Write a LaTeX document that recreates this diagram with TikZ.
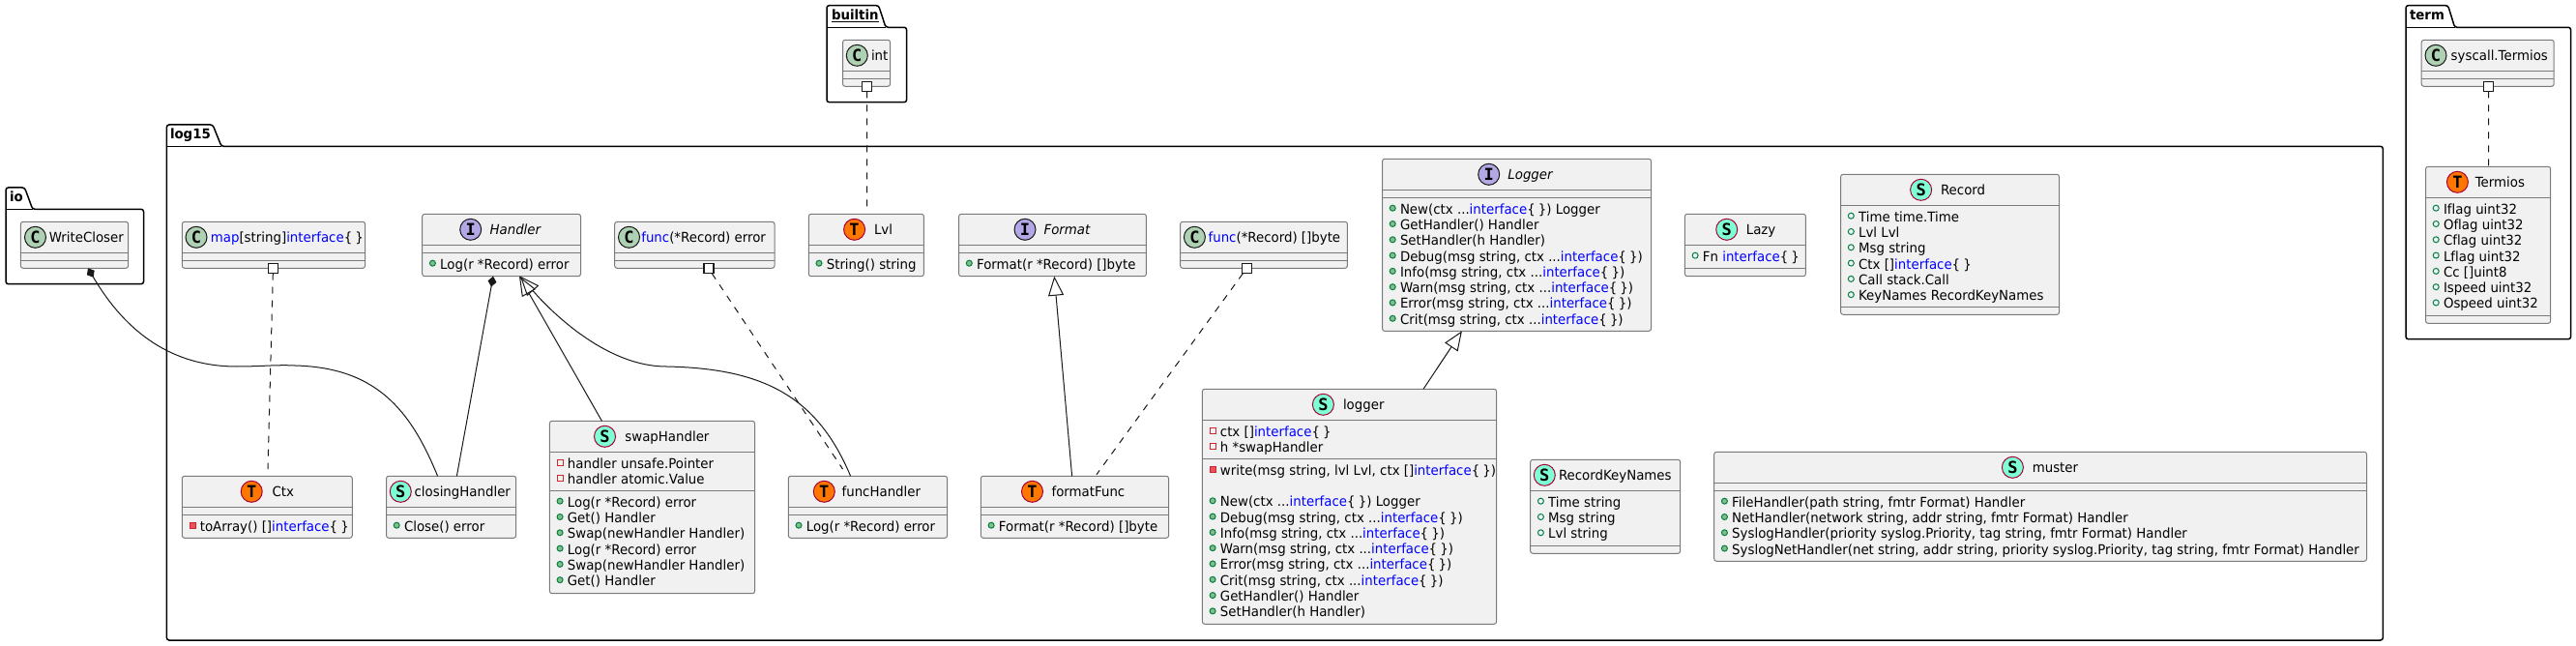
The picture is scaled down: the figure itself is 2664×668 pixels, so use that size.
\documentclass[tikz,border=0pt]{standalone}
\usepackage{fontspec}
\setmainfont{DejaVu Sans}[Ligatures=NoCommon,FakeStretch=0.953]
\setmonofont{DejaVu Sans Mono}
\usetikzlibrary{arrows.meta}
\definecolor{umlbg}{HTML}{F1F1F1}
\definecolor{umlln}{HTML}{181818}
\definecolor{umlbd}{HTML}{7A7A7A}
\definecolor{icC}{HTML}{ADD1B2}
\definecolor{icI}{HTML}{B4A7E5}
\definecolor{icS}{HTML}{7FFFD4}
\definecolor{icT}{HTML}{FF7700}
\definecolor{crim}{HTML}{A80036}
\newcounter{nn}
\newcommand{\kw}[1]{\textcolor{blue}{#1}}
\newcommand{\brc}{\{\kern3.2pt\}}
\tikzset{
  umlbox/.style={draw=umlbd,fill=umlbg,line width=1pt,rounded corners=2.5pt,inner sep=0pt,outer sep=0pt},
  umlsep/.style={draw=umlbd,line width=1pt},
  pkg/.style={draw=black,line width=1.5pt,rounded corners=2.5pt},
  txt/.style={anchor=base west,inner sep=0pt,outer sep=0pt,font=\fontsize{14}{16}\selectfont,text=black},
  pkgtxt/.style={anchor=base west,inner sep=0pt,outer sep=0pt,font=\fontsize{14}{16}\selectfont\bfseries,text=black},
  icon/.style={circle,inner sep=0pt,outer sep=0pt,minimum size=22pt,line width=1pt},
  icC/.style={icon,fill=icC,draw=umlln},
  icI/.style={icon,fill=icI,draw=umlln},
  icS/.style={icon,fill=icS,draw=crim},
  icT/.style={icon,fill=icT,draw=crim},
  iclet/.style={anchor=base,inner sep=0pt,outer sep=0pt,font=\fontsize{17}{17}\ttfamily\bfseries,text=black},
  mkpm/.style={circle,minimum size=6pt,inner sep=0pt,fill=mkgreen,draw=mkdark,line width=1pt},
  mkpf/.style={circle,minimum size=6pt,inner sep=0pt,draw=mkdark,line width=1pt},
  mkrm/.style={rectangle,minimum size=6pt,inner sep=0pt,fill=mkredf,draw=mkred,line width=1pt},
  mkrf/.style={rectangle,minimum size=6pt,inner sep=0pt,draw=mkred,line width=1pt},
  sqr/.style={rectangle,minimum size=10pt,inner sep=0pt,outer sep=0pt,fill=white,draw=umlln,line width=1.5pt},
  conn/.style={draw=umlln,line width=1pt},
  dep/.style={conn,dash pattern=on 7pt off 7pt},
  ext/.style={conn,-{Triangle[open,length=20pt,width=16pt]}},
  comp/.style={conn,{Diamond[length=11pt,width=9pt,fill=umlln]}-},
}
\definecolor{mkgreen}{HTML}{84BE84}
\definecolor{mkdark}{HTML}{038048}
\definecolor{mkred}{HTML}{C82930}
\definecolor{mkredf}{HTML}{F24D5C}
% name x1 y1 x2 y2 sep1 sep2
\newcommand{\umlbox}[7]{%
  \node[umlbox,minimum width={#4-#2},minimum height={#5-#3}] (#1) at ({(#2+#4)/2},{(#3+#5)/2}) {};
  \draw[umlsep] (#2,#6) -- (#4,#6);
  \draw[umlsep] (#2,#7) -- (#4,#7);
}
% type cx cy letter textx name
\newcommand{\umlhead}[6]{%
  \stepcounter{nn}%
  \node[ic#1] (ic\thenn) at (#2,#3) {};
  \node[iclet] (il\thenn) at (#2,{#3+6}) {#4};
  \node[txt] (tn\thenn) at (#5,{#3+5}) {#6};
}
% marker boxleft sectiontop k text
\newcommand{\umlrow}[5]{%
  \stepcounter{nn}%
  \node[mk#1] (mk\thenn) at ({#2+10.7},{#3+10.9+#4*16.297}) {};
  \node[txt] (tr\thenn) at ({#2+18.5},{#3+16.9+#4*16.297}) {#5};
}
% x1 x2 top line bottom tabR tabS
\newcommand{\umlpkg}[7]{%
  \draw[pkg] (#1,#4) -- (#1,#3) -- (#6,#3) -- (#7,#4) -- (#2,#4) -- (#2,#5) -- (#1,#5) -- cycle;
  \draw[pkg,rounded corners=0pt] (#1,#4) -- (#7,#4);
}
\begin{document}
\begin{tikzpicture}[x=1pt,y=-1pt]
\useasboundingbox (0,0) rectangle (2664,668);
% packages
\umlpkg{6.1}{148.5}{194}{216.3}{293.7}{25.5}{33.7}
\node[pkgtxt] (pio) at (10,209) {io};
\umlpkg{172.4}{2464.3}{129}{151.3}{662}{220}{229}
\node[pkgtxt] (plog) at (176,144) {log15};
\umlpkg{855}{937.6}{5.7}{28.3}{105.7}{908.6}{916}
\node[pkgtxt] (pbuilt) at (860,20.5) {\underline{builtin}};
\umlpkg{2488}{2658.6}{5.7}{28.3}{350.7}{2531.6}{2538.6}
\node[pkgtxt] (pterm) at (2492,20.5) {term};
% classes
\umlbox{wc}{21.4}{229.3}{132.7}{277.3}{261.3}{269.3}
\umlhead{C}{36.5}{245.3}{C}{50.8}{WriteCloser}
\umlbox{mapc}{188.3}{229.3}{377.6}{277.3}{261.3}{269.3}
\umlhead{C}{203}{245.3}{C}{217.9}{\kw{map}[string]\kw{interface}\brc}
\umlbox{handler}{436.7}{221.3}{600.5}{285.7}{253.3}{261.3}
\umlhead{I}{486.7}{237.3}{I}{506.6}{\itshape Handler}
\umlrow{pm}{436.7}{261.3}{0}{Log(r *Record) error}
\umlbox{funcerr}{635.7}{229.3}{801}{277.3}{261.3}{269.3}
\umlhead{C}{650.5}{245.3}{C}{663.3}{\kw{func}(*Record) error}
\umlbox{lvl}{836.3}{221.3}{955.4}{285.7}{253.3}{261.3}
\umlhead{T}{883.6}{237.3}{T}{904}{Lvl}
\umlrow{pm}{836.3}{261.3}{0}{String() string}
\umlbox{format}{991.6}{221.3}{1185.4}{285.7}{253.3}{261.3}
\umlhead{I}{1060}{237.3}{I}{1079.6}{\itshape Format}
\umlrow{pm}{991.6}{261.3}{0}{Format(r *Record) []byte}
\umlbox{funcbyte}{1220.6}{229.3}{1393.4}{277.3}{261.3}{269.3}
\umlhead{C}{1235.4}{245.3}{C}{1249.6}{\kw{func}(*Record) []byte}
\umlbox{Logger}{1429.5}{164.3}{1707.6}{342.3}{196.3}{204.3}
\umlhead{I}{1539.7}{180.3}{I}{1559.4}{\itshape Logger}
\umlrow{pm}{1429.5}{204.3}{0}{New(ctx ...\kw{interface}\brc) Logger}
\umlrow{pm}{1429.5}{204.3}{1}{GetHandler() Handler}
\umlrow{pm}{1429.5}{204.3}{2}{SetHandler(h Handler)}
\umlrow{pm}{1429.5}{204.3}{3}{Debug(msg string, ctx ...\kw{interface}\brc)}
\umlrow{pm}{1429.5}{204.3}{4}{Info(msg string, ctx ...\kw{interface}\brc)}
\umlrow{pm}{1429.5}{204.3}{5}{Warn(msg string, ctx ...\kw{interface}\brc)}
\umlrow{pm}{1429.5}{204.3}{6}{Error(msg string, ctx ...\kw{interface}\brc)}
\umlrow{pm}{1429.5}{204.3}{7}{Crit(msg string, ctx ...\kw{interface}\brc)}
\umlbox{lazy}{1742.4}{221.3}{1867.4}{285.7}{253.3}{277.3}
\umlhead{S}{1785.7}{237.3}{S}{1805.8}{Lazy}
\umlrow{pf}{1742.4}{253.3}{0}{Fn \kw{interface}\brc}
\umlbox{record}{1903.6}{180.3}{2129.5}{325.3}{212.3}{317.3}
\umlhead{S}{1986.6}{196.3}{S}{2007}{Record}
\umlrow{pf}{1903.6}{212.3}{0}{Time time.Time}
\umlrow{pf}{1903.6}{212.3}{1}{Lvl Lvl}
\umlrow{pf}{1903.6}{212.3}{2}{Msg string}
\umlrow{pf}{1903.6}{212.3}{3}{Ctx []\kw{interface}\brc}
\umlrow{pf}{1903.6}{212.3}{4}{Call stack.Call}
\umlrow{pf}{1903.6}{212.3}{5}{KeyNames RecordKeyNames}
\umlbox{intc}{871.5}{41.3}{920.6}{89.3}{73.3}{81.3}
\umlhead{C}{886.3}{57.3}{C}{901}{int}
\umlbox{sysc}{2504.2}{41.3}{2641.2}{89.3}{73.3}{81.3}
\umlhead{C}{2519}{57.3}{C}{2534.7}{syscall.Termios}
\umlbox{termios}{2508.5}{172.3}{2637.7}{334.3}{204.3}{326.3}
\umlhead{T}{2541.4}{188.3}{T}{2559.8}{Termios}
\umlrow{pf}{2508.5}{204.3}{0}{Iflag uint32}
\umlrow{pf}{2508.5}{204.3}{1}{Oflag uint32}
\umlrow{pf}{2508.5}{204.3}{2}{Cflag uint32}
\umlrow{pf}{2508.5}{204.3}{3}{Lflag uint32}
\umlrow{pf}{2508.5}{204.3}{4}{Cc []uint8}
\umlrow{pf}{2508.5}{204.3}{5}{Ispeed uint32}
\umlrow{pf}{2508.5}{204.3}{6}{Ospeed uint32}
\umlbox{ctxc}{188.3}{492.3}{364.3}{556.3}{524.3}{532.3}
\umlhead{T}{260.2}{508.3}{T}{281.6}{Ctx}
\umlrow{rm}{188.3}{532.3}{0}{toArray() []\kw{interface}\brc}
\umlbox{closing}{399.5}{492.3}{533.7}{556.3}{524.3}{532.3}
\umlhead{S}{414.3}{508.3}{S}{428.6}{closingHandler}
\umlrow{pm}{399.5}{532.3}{0}{Close() error}
\umlbox{swap}{568.4}{435.3}{780.6}{613.7}{467.3}{507.3}
\umlhead{S}{625.5}{451.3}{S}{646.4}{swapHandler}
\umlrow{rf}{568.4}{467.3}{0}{handler unsafe.Pointer}
\umlrow{rf}{568.4}{467.3}{1}{handler atomic.Value}
\umlrow{pm}{568.4}{507.3}{0}{Log(r *Record) error}
\umlrow{pm}{568.4}{507.3}{1}{Get() Handler}
\umlrow{pm}{568.4}{507.3}{2}{Swap(newHandler Handler)}
\umlrow{pm}{568.4}{507.3}{3}{Log(r *Record) error}
\umlrow{pm}{568.4}{507.3}{4}{Swap(newHandler Handler)}
\umlrow{pm}{568.4}{507.3}{5}{Get() Handler}
\umlbox{funch}{815.3}{492.3}{979.6}{556.3}{524.3}{532.3}
\umlhead{T}{852.3}{508.3}{T}{870.6}{funcHandler}
\umlrow{pm}{815.3}{532.3}{0}{Log(r *Record) error}
\umlbox{formatf}{1014.4}{492.3}{1208.6}{556.3}{524.3}{532.3}
\umlhead{T}{1067.5}{508.3}{T}{1087.6}{formatFunc}
\umlrow{pm}{1014.4}{532.3}{0}{Format(r *Record) []byte}
\umlbox{loggr}{1243.4}{402.3}{1547.6}{645.3}{434.3}{474.3}
\umlhead{S}{1368.4}{418.3}{S}{1389}{logger}
\umlrow{rf}{1243.4}{434.3}{0}{ctx []\kw{interface}\brc}
\umlrow{rf}{1243.4}{434.3}{1}{h *swapHandler}
\umlrow{rm}{1243.4}{474.3}{0}{write(msg string, lvl Lvl, ctx []\kw{interface}\brc)}
\umlrow{pm}{1243.4}{474.3}{2}{New(ctx ...\kw{interface}\brc) Logger}
\umlrow{pm}{1243.4}{474.3}{3}{Debug(msg string, ctx ...\kw{interface}\brc)}
\umlrow{pm}{1243.4}{474.3}{4}{Info(msg string, ctx ...\kw{interface}\brc)}
\umlrow{pm}{1243.4}{474.3}{5}{Warn(msg string, ctx ...\kw{interface}\brc)}
\umlrow{pm}{1243.4}{474.3}{6}{Error(msg string, ctx ...\kw{interface}\brc)}
\umlrow{pm}{1243.4}{474.3}{7}{Crit(msg string, ctx ...\kw{interface}\brc)}
\umlrow{pm}{1243.4}{474.3}{8}{GetHandler() Handler}
\umlrow{pm}{1243.4}{474.3}{9}{SetHandler(h Handler)}
\umlbox{rkn}{1582.7}{475.3}{1737.7}{572.3}{507.3}{564.3}
\umlhead{S}{1597.3}{491.3}{S}{1612}{RecordKeyNames}
\umlrow{pf}{1582.7}{507.3}{0}{Time string}
\umlrow{pf}{1582.7}{507.3}{1}{Msg string}
\umlrow{pf}{1582.7}{507.3}{2}{Lvl string}
\umlbox{muster}{1772.7}{467.3}{2447.5}{580.3}{499.3}{507.3}
\umlhead{S}{2081.4}{483.3}{S}{2101.8}{muster}
\umlrow{pm}{1772.7}{507.3}{0}{FileHandler(path string, fmtr Format) Handler}
\umlrow{pm}{1772.7}{507.3}{1}{NetHandler(network string, addr string, fmtr Format) Handler}
\umlrow{pm}{1772.7}{507.3}{2}{SyslogHandler(priority syslog.Priority, tag string, fmtr Format) Handler}
\umlrow{pm}{1772.7}{507.3}{3}{SyslogNetHandler(net string, addr string, priority syslog.Priority, tag string, fmtr Format) Handler}
% aggregation squares
\node[sqr] (sqmap) at ([xshift=-0.65pt,yshift=-0.4pt]mapc.south) {};
\node[sqr] (sqfe) at ([xshift=14.85pt,yshift=-0.4pt]funcerr.south) {};
\node[sqr] (sqint) at ([xshift=0.45pt,yshift=-0.1pt]intc.south) {};
\node[sqr] (sqfb) at ([xshift=-17.6pt,yshift=-0.4pt]funcbyte.south) {};
\node[sqr] (sqsys) at ([xshift=0.8pt,yshift=-0.1pt]sysc.south) {};
% connectors
\draw[dep] (sqmap.south) -- ([xshift=0.7pt,yshift=7.3pt]ctxc.north);
\draw[dep] ([xshift=3pt]sqfe.south) -- ([xshift=-25.95pt,yshift=7.3pt]funch.north);
\draw[dep] (sqint.south) -- ([xshift=0.65pt,yshift=8pt]lvl.north);
\draw[dep] ([xshift=-4pt]sqfb.south) -- ([xshift=22.5pt,yshift=1.6pt]formatf.north);
\draw[dep] (sqsys.south) -- ([xshift=0.4pt]termios.north);
\draw[comp] ([xshift=13.95pt]wc.south) .. controls (125,335) and (170,379) .. (245,379) .. controls (270,379) and (285,377) .. (305,378) .. controls (390,380) and (425,425) .. ([xshift=-14pt]closing.north);
\draw[comp] ([xshift=-8.6pt]handler.south) -- ([xshift=5.8pt]closing.north);
\draw[ext] ([xshift=-52.1pt]swap.north) -- ([xshift=18.4pt]handler.south);
\draw[ext] ([xshift=-17.85pt]funch.north) .. controls (845,410) and (790,381) .. (689,379) .. controls (630,379) and (575,328) .. ([xshift=19.4pt]handler.south);
\draw[ext] ([xshift=-2.9pt]formatf.north) -- ([xshift=1.8pt]format.south);
\draw[ext] ([xshift=76.5pt]loggr.north) -- ([xshift=-56.65pt]Logger.south);
\end{tikzpicture}
\end{document}
